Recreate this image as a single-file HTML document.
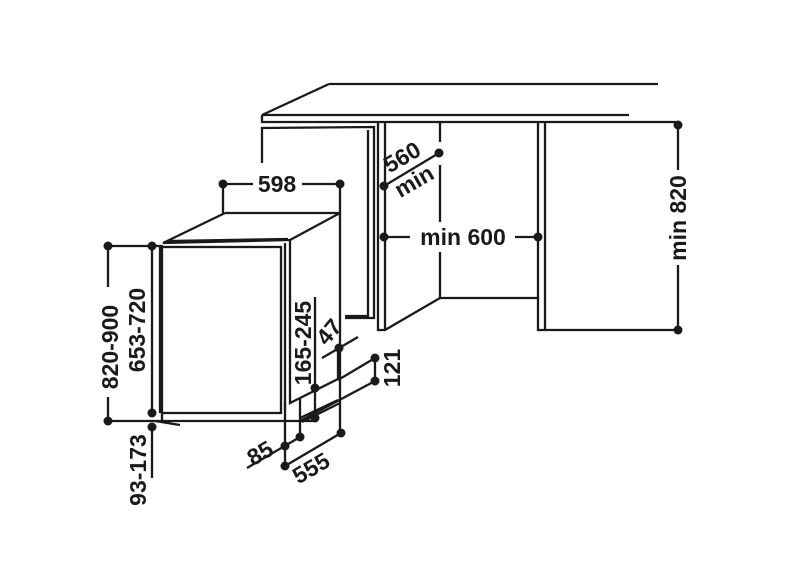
<!DOCTYPE html>
<html><head><style>html,body{margin:0;padding:0;background:#fff}svg{display:block}
text{font-family:"Liberation Sans",sans-serif;font-weight:bold;font-size:23px;fill:#1a1a1a}</style></head>
<body>
<svg width="786" height="587" viewBox="0 0 786 587" xmlns="http://www.w3.org/2000/svg">
<g stroke="#1a1a1a" stroke-width="2.3" fill="none">
<path d="M329,84 L658,84 M329,84 L262,115 L629,115 M262,115 L262,122 L676,122"/>
<path d="M262,163 L262,128 L374,127 L374,318 L345,318 M368,130 L368,316 L345,316"/>
<path d="M378,122 L378,330 L385,330 L385,122 M385,330 L440,298 L538,298"/>
<path d="M440,122 L440,142 M440,165 L440,222 M440,252 L440,298"/>
<path d="M538,122 L538,330 L545,330 L545,122 M545,330 L677,330"/>
<path d="M678,125 L678,170 M678,265 L678,330"/>
<path d="M384,237 L410,237 M515,237 L538,237"/>
<path d="M384,186 L439,153"/>
<path d="M223,184 L253,184 M302,184 L340,184 M223,184 L223,213 M340,184 L340,432"/>
<path d="M225,213 L340,213 L290,240 M225,213 L163,243 L290,240 M168,241 L288,239"/>
<path d="M290,240 L290,403 L340,378 M285,243 L285,410"/>
<rect x="162" y="247" width="119" height="166"/>
<path d="M160,245 L160,413 M162,413 L162,421 M108,421 L313,421 M155,421 L180,425 M300,418 L338,400 M302,422 L340,403"/>
<path d="M108,246 L163,246 M108,246 L108,287 M108,397 L108,421 M152,246 L152,413 M152,427 L152,478"/>
<path d="M315,297 L315,420"/>
<path d="M322,358 L358,337"/>
<path d="M375,357 L375,381 M375,358 L338,380 M375,381 L300,421 M338,348 L338,380"/>
<path d="M247,468 L300,437 M285,402 L285,466 M300,398 L300,437 M285,466 L341,433"/>
</g>
<g fill="#1a1a1a">
<circle cx="223" cy="184" r="4.5"/><circle cx="340" cy="184" r="4.5"/>
<circle cx="108" cy="246" r="4.5"/><circle cx="152" cy="246" r="4.5"/>
<circle cx="108" cy="421" r="4.5"/><circle cx="152" cy="413" r="4.5"/><circle cx="152" cy="427" r="4.5"/>
<circle cx="315" cy="388" r="4.5"/><circle cx="315" cy="418" r="4.5"/>
<circle cx="339" cy="348" r="4.5"/><circle cx="375" cy="358" r="4.5"/><circle cx="375" cy="381" r="4.5"/>
<circle cx="300" cy="437" r="4.5"/><circle cx="285" cy="446" r="4.5"/><circle cx="285" cy="466" r="4.5"/><circle cx="341" cy="433" r="4.5"/>
<circle cx="384" cy="186" r="4.5"/><circle cx="439" cy="153" r="4.5"/>
<circle cx="384" cy="237" r="4.5"/><circle cx="538" cy="237" r="4.5"/>
<circle cx="678" cy="125" r="4.5"/><circle cx="678" cy="330" r="4.5"/>
</g>
<text x="277" y="192" text-anchor="middle">598</text>
<text x="463" y="245" text-anchor="middle">min 600</text>
<text transform="translate(406,164) rotate(-30)" text-anchor="middle">560</text>
<text transform="translate(418,188) rotate(-30)" text-anchor="middle">min</text>
<text transform="translate(686,218) rotate(-90)" text-anchor="middle">min 820</text>
<text transform="translate(118,347) rotate(-90)" text-anchor="middle">820-900</text>
<text transform="translate(145,330) rotate(-90)" text-anchor="middle">653-720</text>
<text transform="translate(146,470) rotate(-90)" text-anchor="middle">93-173</text>
<text transform="translate(311,343) rotate(-90)" text-anchor="middle">165-245</text>
<text transform="translate(400,368) rotate(-90)" text-anchor="middle">121</text>
<text transform="translate(335,337) rotate(-50)" text-anchor="middle">47</text>
<text transform="translate(264,460) rotate(-30)" text-anchor="middle">85</text>
<text transform="translate(315,475) rotate(-30)" text-anchor="middle">555</text>
</svg>
</body></html>
